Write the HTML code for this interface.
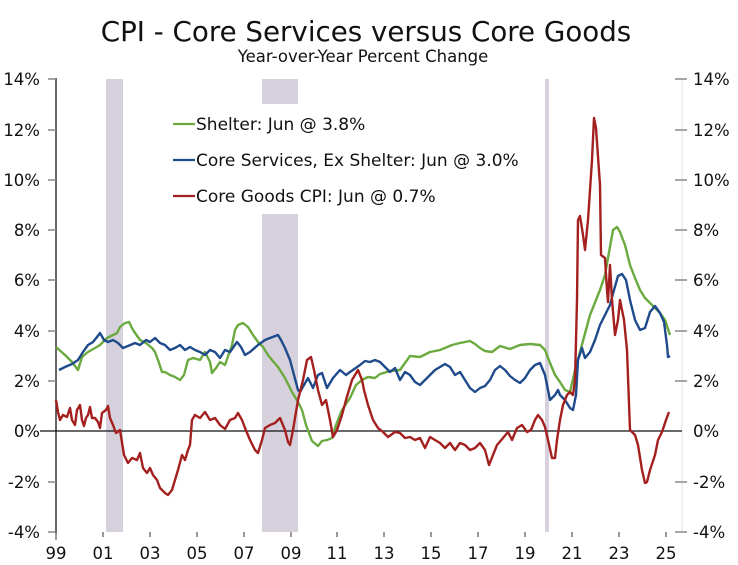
<!DOCTYPE html>
<html><head><meta charset="utf-8"><style>
body{margin:0;background:#fff;}
svg{display:block;font-family:"DejaVu Sans","Liberation Sans",sans-serif;}
</style></head><body>
<svg width="738" height="565" viewBox="0 0 738 565" xmlns="http://www.w3.org/2000/svg">
<rect width="738" height="565" fill="#fff"/>
<text x="366" y="41" font-size="27.7" text-anchor="middle" fill="#111">CPI - Core Services versus Core Goods</text>
<text x="363" y="62" font-size="16.5" text-anchor="middle" fill="#111">Year-over-Year Percent Change</text>
<g fill="#d6d1dc">
<rect x="106" y="79" width="17" height="453"/>
<rect x="262" y="79" width="36" height="453"/>
<rect x="545" y="79" width="4" height="453"/>
</g>
<rect x="160" y="104" width="380" height="110" fill="#fff"/>
<line x1="56" y1="78" x2="56" y2="533" stroke="#333" stroke-width="1.5"/>
<line x1="682" y1="78" x2="682" y2="533" stroke="#e2e2e2" stroke-width="1"/>
<line x1="40" y1="431" x2="682" y2="431" stroke="#111" stroke-width="1.3"/>
<g stroke="#888" stroke-width="1.5">
<line x1="48" y1="79" x2="56" y2="79"/><line x1="48" y1="130" x2="56" y2="130"/><line x1="48" y1="180" x2="56" y2="180"/><line x1="48" y1="230" x2="56" y2="230"/><line x1="48" y1="280" x2="56" y2="280"/><line x1="48" y1="331" x2="56" y2="331"/><line x1="48" y1="381" x2="56" y2="381"/><line x1="48" y1="482" x2="56" y2="482"/><line x1="48" y1="532" x2="56" y2="532"/>
<line x1="675" y1="79" x2="687" y2="79"/><line x1="675" y1="130" x2="687" y2="130"/><line x1="675" y1="180" x2="687" y2="180"/><line x1="675" y1="230" x2="687" y2="230"/><line x1="675" y1="280" x2="687" y2="280"/><line x1="675" y1="331" x2="687" y2="331"/><line x1="675" y1="381" x2="687" y2="381"/><line x1="675" y1="482" x2="687" y2="482"/><line x1="675" y1="532" x2="687" y2="532"/>
</g>
<g stroke="#333" stroke-width="1">
<line x1="56" y1="532" x2="56" y2="540"/><line x1="103" y1="532" x2="103" y2="537"/><line x1="150" y1="532" x2="150" y2="537"/><line x1="197" y1="532" x2="197" y2="537"/><line x1="244" y1="532" x2="244" y2="537"/><line x1="291" y1="532" x2="291" y2="537"/><line x1="337" y1="532" x2="337" y2="537"/><line x1="384" y1="532" x2="384" y2="537"/><line x1="431" y1="532" x2="431" y2="537"/><line x1="478" y1="532" x2="478" y2="537"/><line x1="525" y1="532" x2="525" y2="537"/><line x1="572" y1="532" x2="572" y2="537"/><line x1="619" y1="532" x2="619" y2="537"/><line x1="666" y1="532" x2="666" y2="537"/>
</g>
<g font-size="16.5" fill="#111" text-anchor="end">
<text x="40" y="85">14%</text><text x="40" y="136">12%</text><text x="40" y="186">10%</text><text x="40" y="236">8%</text><text x="40" y="286">6%</text><text x="40" y="337">4%</text><text x="40" y="387">2%</text><text x="40" y="437">0%</text><text x="40" y="488">-2%</text><text x="40" y="538">-4%</text>
</g>
<g font-size="16.5" fill="#111" text-anchor="start">
<text x="693" y="85">14%</text><text x="693" y="136">12%</text><text x="693" y="186">10%</text><text x="693" y="236">8%</text><text x="693" y="286">6%</text><text x="693" y="337">4%</text><text x="693" y="387">2%</text><text x="693" y="437">0%</text><text x="693" y="488">-2%</text><text x="693" y="538">-4%</text>
</g>
<g font-size="16.5" fill="#111" text-anchor="middle">
<text x="56" y="559">99</text><text x="103" y="559">01</text><text x="150" y="559">03</text><text x="197" y="559">05</text><text x="244" y="559">07</text><text x="291" y="559">09</text><text x="337" y="559">11</text><text x="384" y="559">13</text><text x="431" y="559">15</text><text x="478" y="559">17</text><text x="525" y="559">19</text><text x="572" y="559">21</text><text x="619" y="559">23</text><text x="666" y="559">25</text>
</g>
<g fill="none" stroke-width="2.4" stroke-linejoin="round">
<polyline stroke="#6aaa3f" points="56,347 65,355 72,362 78,370 82,357 88,352 95,348 100,345 107,338 113,335 117,333 120,327 125,323 129,322 133,330 140,340 146,343 152,348 155,352 158,360 162,372 165,372 170,375 175,377 180,380 184,375 188,360 193,358 200,360 205,352 210,362 212,373 216,368 220,362 225,365 232,345 235,330 238,325 243,323 248,327 253,335 258,342 263,347 268,355 272,360 278,367 285,378 292,392 298,402 302,410 306,425 312,441 318,446 322,441 327,440 332,438 336,425 342,410 350,398 356,385 362,380 368,377 375,378 380,374 390,371 400,370 410,356 420,357 430,352 440,350 452,345 460,343 470,341 475,344 480,348 485,351 492,352 500,346 510,349 520,345 530,344 540,345 545,350 550,363 555,375 560,382 565,390 570,392 575,370 580,352 590,315 600,290 605,275 608,258 613,230 617,227 620,232 625,245 630,265 635,278 640,290 645,298 650,303 655,308 660,313 665,320 670,335"/>
<polyline stroke="#1f4a8c" points="59,370 65,367 72,364 78,360 83,352 88,345 93,342 97,337 100,333 104,340 108,342 113,340 118,343 123,348 128,346 135,343 140,345 146,340 150,342 155,338 160,343 165,345 170,350 175,348 180,345 185,350 190,347 195,350 200,352 205,355 210,350 215,352 220,358 225,350 230,352 237,342 241,347 245,355 250,352 258,345 265,340 270,338 278,335 281,340 285,348 290,360 294,375 298,390 300,392 304,385 308,378 313,388 318,375 322,373 327,388 333,378 340,370 346,375 350,372 360,365 365,361 370,362 375,360 380,362 385,367 390,372 395,368 400,380 405,372 410,375 415,382 420,385 425,380 430,375 435,370 440,367 445,364 450,367 455,375 460,372 465,380 470,388 475,392 480,388 485,386 490,380 495,370 500,366 505,370 510,376 515,380 520,383 525,378 530,370 535,365 540,363 545,375 550,400 555,395 558,390 560,395 565,400 570,408 573,410 576,395 578,360 582,348 585,358 590,352 595,340 600,325 605,315 610,305 614,290 618,276 622,274 626,280 630,300 635,320 640,330 645,328 650,312 655,306 660,313 664,322 667,345 668,357 670,356"/>
<polyline stroke="#a3201f" points="56,400 58,412 60,420 63,415 67,417 70,408 72,420 75,425 77,410 80,405 82,420 84,426 86,418 88,415 90,407 92,418 95,418 98,422 100,428 102,413 106,410 108,406 110,418 113,425 116,433 120,430 124,455 128,463 132,458 137,460 140,453 143,468 147,473 150,468 153,475 157,480 160,488 165,493 168,495 172,490 175,480 178,470 182,455 185,460 188,450 190,445 192,420 195,415 200,418 205,412 210,420 215,418 220,425 225,429 230,420 235,418 238,413 242,420 245,428 250,440 255,450 258,453 262,440 265,428 270,425 275,423 280,418 285,430 288,442 290,445 293,430 298,400 303,380 307,360 311,357 314,370 318,390 322,405 326,400 330,420 333,437 337,430 342,415 346,400 352,380 358,370 362,380 364,390 368,405 373,420 378,428 383,432 388,437 395,432 400,433 405,438 410,437 415,440 420,438 425,448 430,437 435,440 440,443 445,448 450,443 455,450 460,443 465,445 470,450 475,448 480,443 485,450 489,465 493,455 497,445 503,438 508,432 512,440 517,428 522,425 527,432 531,430 535,420 538,415 542,420 545,427 548,440 552,458 555,458 557,440 560,420 563,405 567,395 570,392 573,395 575,380 577,300 578,220 580,216 583,235 585,250 588,220 592,160 594,118 596,128 600,185 601,255 605,258 607,290 608,302 610,265 612,300 615,335 618,320 620,300 624,320 627,350 630,430 635,435 638,445 642,470 645,483 647,482 650,470 655,455 658,440 662,432 666,420 669,412"/>
</g>
<g stroke-width="2.2">
<line x1="173" y1="124" x2="195" y2="124" stroke="#6aaa3f"/>
<line x1="173" y1="160" x2="195" y2="160" stroke="#1f4a8c"/>
<line x1="173" y1="196" x2="195" y2="196" stroke="#a3201f"/>
</g>
<g font-size="17" fill="#111">
<text x="196" y="130">Shelter: Jun @ 3.8%</text>
<text x="196" y="166">Core Services, Ex Shelter: Jun @ 3.0%</text>
<text x="196" y="202">Core Goods CPI: Jun @ 0.7%</text>
</g>
</svg>
</body></html>
